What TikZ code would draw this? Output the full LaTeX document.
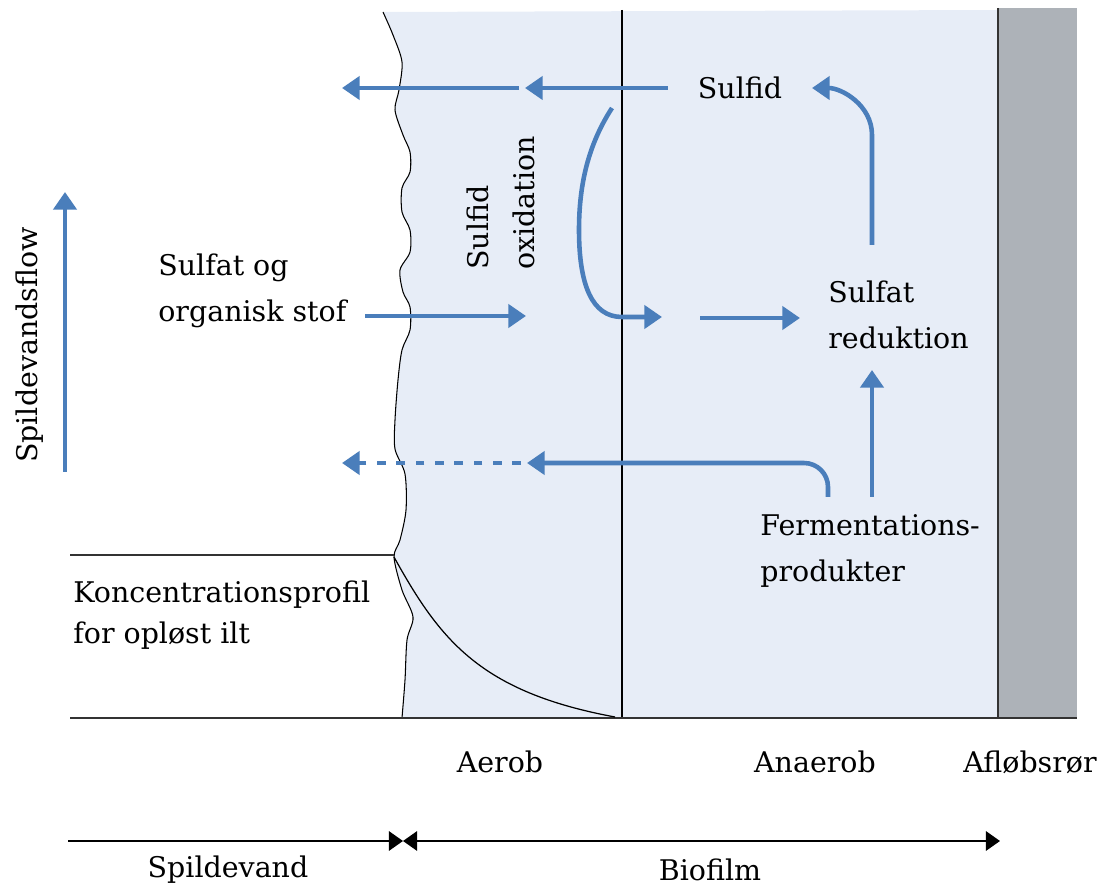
\documentclass[tikz,border=0pt]{standalone}
\usepackage{fontspec}
\setmainfont{DejaVu Serif}
\usetikzlibrary{arrows.meta,positioning}
\definecolor{flowblue}{HTML}{4A7EBB}
\definecolor{filmblue}{HTML}{E7EDF7}
\definecolor{pipegray}{HTML}{ADB2B8}
\tikzset{axtip/.tip={Triangle[length=8pt,width=11pt]}}

\begin{document}
\begin{tikzpicture}[x=0.02cm,y=-0.02cm,
    flow/.style={draw=flowblue,line width=2.6pt,-{Triangle[length=10pt,width=13pt]}},
    lbl/.style={font=\fontsize{16.2}{26}\selectfont,align=left,inner sep=0pt},
    axisline/.style={line width=1.1pt}]
  \useasboundingbox (0,0) rectangle (1106,891);
  % biofilm and pipe wall
  \fill[filmblue] plot[smooth] coordinates {(383,12) (393,35) (402,62) (399,90) (395,110)
      (403,135) (410,152) (410,172) (402,188) (402,212) (410,230) (410,252) (400,270)
      (403,292) (410,307) (410,330) (402,350) (398,380) (395,420) (395,449) (405,474)
      (406,510) (400,540) (394,557) (402,590) (413,617) (407,640) (405,680) (402,718)}
    -- (998,718) -- (998,10) -- cycle;
  \fill[pipegray] (998,8) rectangle (1077,718);
  \draw[line width=0.6pt] plot[smooth] coordinates {(383,12) (393,35) (402,62) (399,90) (395,110)
      (403,135) (410,152) (410,172) (402,188) (402,212) (410,230) (410,252) (400,270)
      (403,292) (410,307) (410,330) (402,350) (398,380) (395,420) (395,449) (405,474)
      (406,510) (400,540) (394,557) (402,590) (413,617) (407,640) (405,680) (402,718)};
  \draw[line width=0.8pt] (622,10) -- (622,718);
  \draw[line width=1.3pt,black!80] (998,8) -- (998,718);
  \draw[line width=1.1pt,black!80] (70,555) -- (394,555);
  \draw[line width=1.1pt,black!80] (70,718) -- (1077,718);
  % oxygen profile
  \draw[line width=0.7pt] (394,557) .. controls (440,640) and (480,692) .. (615,717);

  % labels
  \node[lbl] (sulfid) at (740,88) {Sulfid};
  \node[lbl,rotate=90,anchor=west] (oxid) at (501,270) {Sulfid\\oxidation};
  \node[lbl,anchor=west] (stof) at (158,291) {Sulfat og\\organisk stof};
  \node[lbl,anchor=west] (red) at (828,315) {Sulfat\\reduktion};
  \node[lbl,anchor=west] (ferm) at (760,551) {Fermentations-\\produkter};
  \node[lbl,anchor=west,font=\fontsize{16.2}{23}\selectfont] (kprof) at (73,615)
    {Koncentrationsprofil\\for opløst ilt};
  \node[lbl,rotate=90] (flowlbl) at (30,345) {Spildevandsflow};
  \node[lbl] (aerob) at (500,762) {Aerob};
  \node[lbl] (anaerob) at (815,762) {Anaerob};
  \node[lbl] (aflob) at (1030,762) {Afløbsrør};
  \node[lbl] (spv) at (228,870) {Spildevand};
  \node[lbl] (bio) at (710,870) {Biofilm};

  % free ends of the flows
  \coordinate (t1) at (525,88);
  \coordinate (t2) at (342,88);
  \coordinate (up1) at (872,245);
  \coordinate (up2) at (812,88);
  \coordinate (c1) at (612,108);
  \coordinate (c2) at (662,317);
  \coordinate (c3) at (700,318);
  \coordinate (c4) at (800,318);
  \coordinate (c5) at (365,316);
  \coordinate (c6) at (526,316);
  \coordinate (f1) at (872,497);
  \coordinate (f2) at (872,370);
  \coordinate (f3) at (828,497);
  \coordinate (f4) at (527,463);
  \coordinate (f5) at (342,463);
  \coordinate (q1) at (65,472);
  \coordinate (q2) at (65,192);
  \coordinate (ax0) at (68,841);
  \coordinate (axm) at (403,841);
  \coordinate (ax1) at (1000,841);

  % flows
  \draw[flow] (sulfid.west) ++(-30,0) -- (t1);
  \draw[flow] (t1) ++(-6,0) -- (t2);
  \draw[flow] (up1) -- (872,135) to[out=90,in=0] (up2);
  \draw[flow] (c1) .. controls (588,145) and (579,185) .. (579,230)
    .. controls (579,285) and (592,317) .. (622,317) -- (c2);
  \draw[flow] (c3) -- (c4);
  \draw[flow] (c5) -- (c6);
  \draw[flow] (f1) -- (f2);
  \draw[flow] (f3) -- (828,487) to[out=90,in=0] (804,463) -- (f4);
  \draw[flow,dash pattern=on 5pt off 6pt] (f4) ++(-6,0) -- (f5);
  \draw[flow] (q1) -- (q2);

  % axis
  \draw[axisline,-axtip] (ax0) -- (axm);
  \draw[axisline,axtip-axtip] (axm) -- (ax1);
\end{tikzpicture}
\end{document}
